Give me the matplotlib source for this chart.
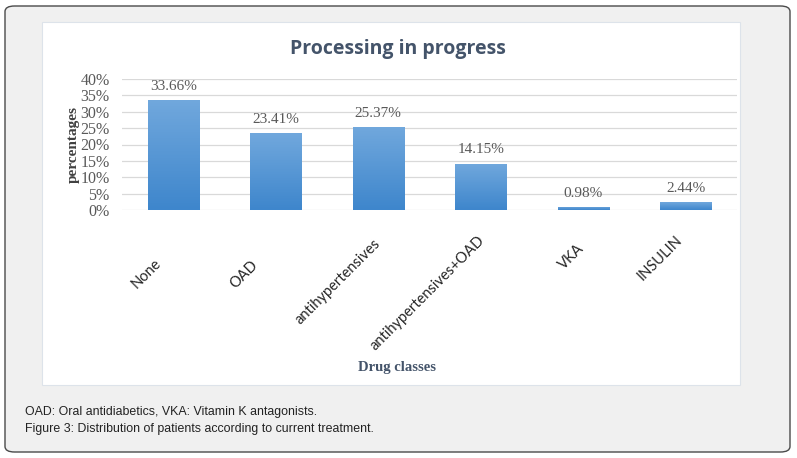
import numpy as np
import matplotlib.pyplot as plt
from matplotlib.patches import FancyBboxPatch, Rectangle
from matplotlib.colors import LinearSegmentedColormap
from matplotlib.ticker import PercentFormatter

# Данные
categories = ["None", "OAD", "antihypertensives", "antihypertensives+OAD", "VKA", "INSULIN"]
values = [33.66, 23.41, 25.37, 14.15, 0.98, 2.44]
yticks = [0, 5, 10, 15, 20, 25, 30, 35, 40]

# смещения подписей оси X (пиксели от центра столбца / низа оси), как в Excel
label_dx = [-19, -25, -5, -3, -6, -11]
label_dy = [46, 48, 26, 23, 31, 23]

W, H = 797, 458
fig = plt.figure(figsize=(W / 100, H / 100), dpi=100)
fig.patch.set_facecolor("white")

# рамка с серым фоном
outer = FancyBboxPatch((5 / W, 6 / H), 785 / W, 446 / H,
                       boxstyle="round,pad=0,rounding_size=0.012",
                       transform=fig.transFigure, facecolor="#f0f0f0",
                       edgecolor="#4a4a4a", linewidth=1.0, zorder=0)
fig.patches.append(outer)
# белая панель графика
panel = Rectangle((42 / W, 1 - 385 / H), 698 / W, 363 / H,
                  transform=fig.transFigure, facecolor="white",
                  edgecolor="#dde3ea", linewidth=0.8, zorder=0.5)
fig.patches.append(panel)

ax = fig.add_axes([122 / W, 1 - 210 / H, 615 / W, 131 / H])
ax.set_zorder(2)
ax.set_facecolor("none")
x = np.arange(len(categories))
bars = ax.bar(x, values, width=0.5, color="#5597d8", zorder=2)

# градиент внутри столбцов
cmap = LinearSegmentedColormap.from_list("barfill", ["#3e86cc", "#71a8dd"])
grad = np.linspace(0, 1, 128).reshape(-1, 1)
for b in bars:
    im = ax.imshow(grad, cmap=cmap, origin="lower", aspect="auto", zorder=3,
                   extent=[b.get_x(), b.get_x() + b.get_width(), 0, max(b.get_height(), 0.01)])
    im.set_clip_path(b)

ax.set_ylim(0, 40)
ax.set_xlim(-0.5, len(categories) - 0.5)
ax.set_yticks(yticks)
ax.yaxis.set_major_formatter(PercentFormatter(decimals=0))
ax.grid(axis="y", color="#d9d9d9", linewidth=0.9, zorder=0)
ax.set_axisbelow(True)
for s in ax.spines.values():
    s.set_visible(False)
ax.tick_params(length=0)
ax.tick_params(axis="y", pad=9)
for lbl in ax.get_yticklabels():
    lbl.set_fontfamily("Liberation Serif")
    lbl.set_fontsize(11.5)
    lbl.set_color("#595959")

ax.set_xticks(x)
ax.set_xticklabels([])
for i, name in enumerate(categories):
    ax.annotate(name, xy=(i, 0), xycoords=("data", "axes fraction"),
                xytext=(label_dx[i] * 0.72, -label_dy[i] * 0.72), textcoords="offset points",
                rotation=45, ha="right", va="top", rotation_mode="anchor",
                fontfamily="Lato", fontsize=10.5, color="#262626")

for b, v in zip(bars, values):
    ax.text(b.get_x() + b.get_width() / 2, v + 2.2, f"{v:.2f}%", ha="center", va="bottom",
            fontfamily="Liberation Serif", fontsize=11, color="#595959")

ax.set_ylabel("percentages", fontfamily="Liberation Serif", fontweight="bold",
              fontsize=11, color="#404040", labelpad=0)

fig.text(398 / W, 1 - 49 / H, "Processing in progress", ha="center", va="center",
         fontfamily="Open Sans", fontweight="bold", fontsize=14, color="#44546a")
fig.text(397 / W, 1 - 368 / H, "Drug classes", ha="center", va="center",
         fontfamily="Liberation Serif", fontweight="bold", fontsize=10.5, color="#44546a")

fig.text(25 / W, 1 - 412 / H, "OAD: Oral antidiabetics, VKA: Vitamin K antagonists.",
         ha="left", va="center", fontfamily="Liberation Sans", fontsize=8.9, color="#222222")
fig.text(25 / W, 1 - 429 / H, "Figure 3: Distribution of patients according to current treatment.",
         ha="left", va="center", fontfamily="Liberation Sans", fontsize=8.9, color="#222222")

fig.savefig("out.png", dpi=100)
